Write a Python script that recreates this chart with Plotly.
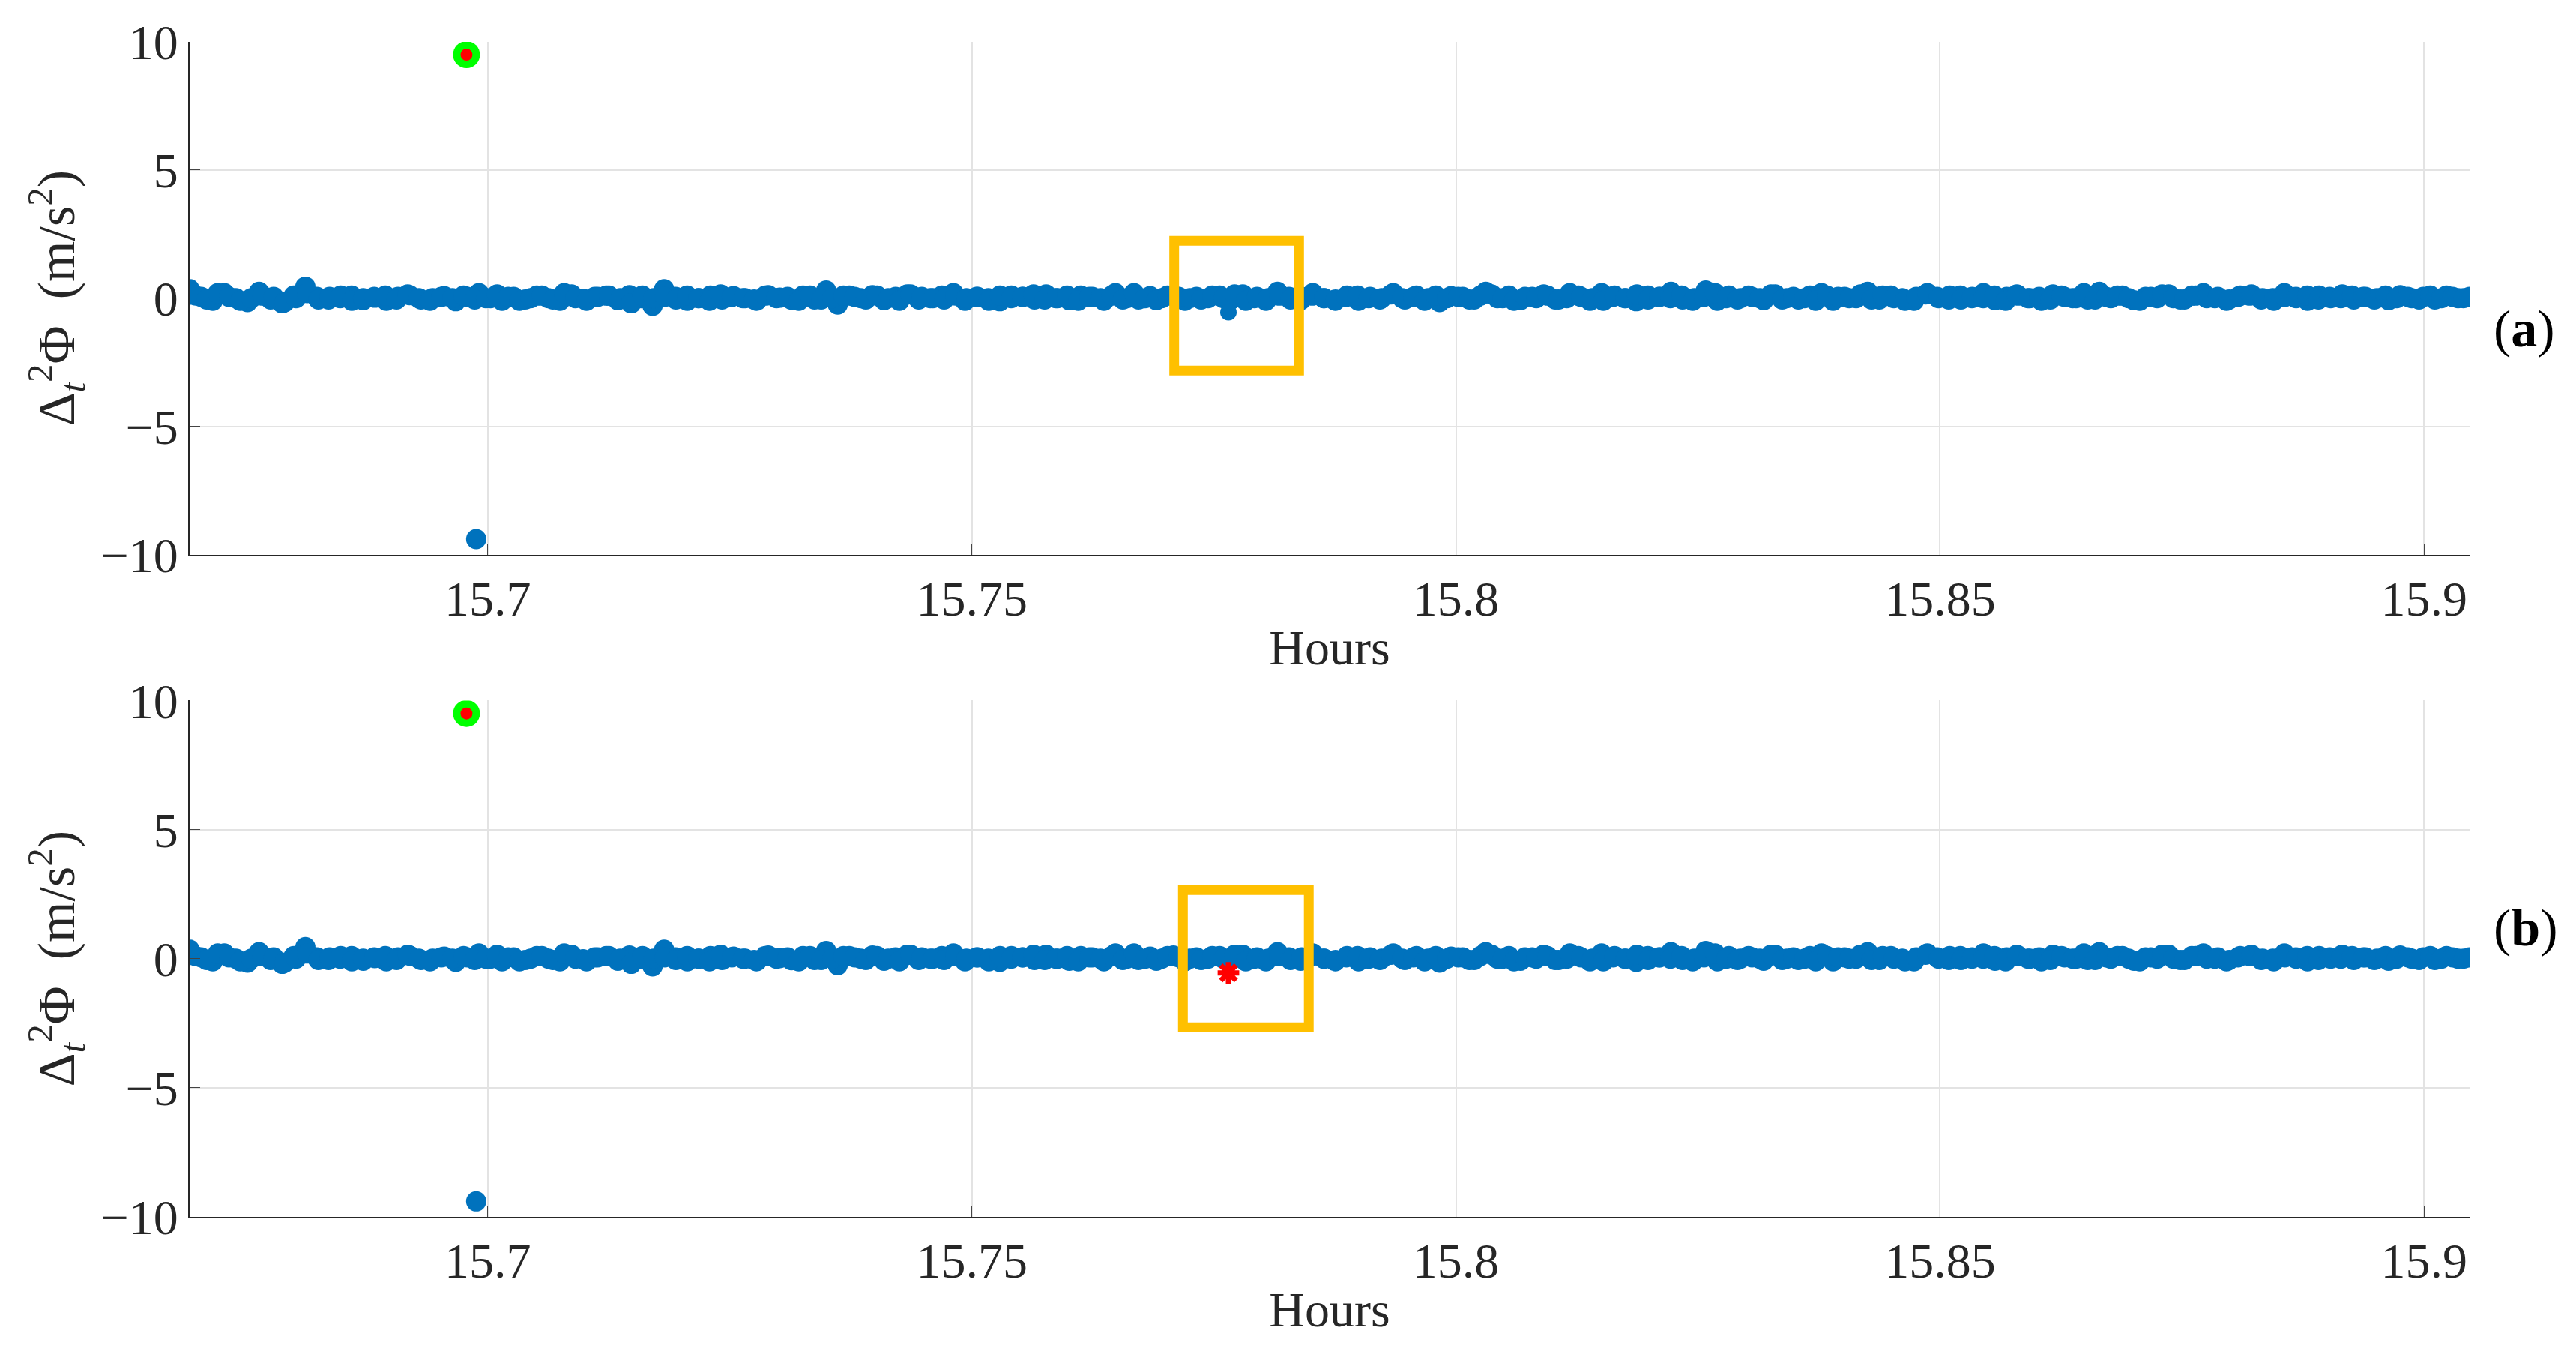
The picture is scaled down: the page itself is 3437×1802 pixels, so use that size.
import plotly.graph_objects as go
from plotly.subplots import make_subplots
import numpy as np

# time span (hours) of the record, sampled evenly
t_start, t_end = 15.6692, 15.9047
noise = [0.35, 0.05, -0.1, 0.2, 0.0, -0.15, 0.25, -0.05, -0.2, 0.1, 0.45, 0.05, -0.05, 0.0, 0.1, -0.08,
         0.02, -0.1, 0.05, 0.12, -0.05, 0.0, 0.08, -0.12, 0.05, 0.2, 0.0, -0.1, 0.05, -0.05,
         0.1, 0.0, -0.1, 0.15, -0.02, 0.05, 0.1, -0.08, 0.12, 0.0, -0.3, 0.35, 0.05, -0.1,
         0.0, 0.1, -0.05, 0.08, 0.0, -0.1, 0.12, 0.02, -0.06, 0.1, -0.05, 0.3, -0.25, 0.1,
         0.0, 0.12, -0.08, 0.05, 0.15, -0.05, 0.0, 0.1, 0.2, -0.1, 0.05, 0.0, -0.12, 0.1,
         0.05, -0.05, 0.15, 0.0, -0.08, 0.1, 0.05, -0.1, 0.2, 0.0, -0.05, 0.08, 0.0, 0.12,
         -0.1, 0.05, 0.0, 0.1, -0.05, 0.15, 0.0, -0.1, 0.25, 0.05, -0.08, 0.1, 0.0, -0.05,
         0.1, -0.1, 0.05, 0.0, 0.2, -0.05, 0.1, 0.0, -0.15, 0.08, 0.05, -0.05, 0.25, 0.0,
         0.1, -0.08, 0.05, 0.15, -0.05, 0.0, 0.1, -0.1, 0.2, 0.05, 0.0, -0.12, 0.1, 0.05,
         0.25, -0.05, 0.0, 0.3, -0.1, 0.1, 0.0, 0.05, -0.08, 0.15, 0.0, -0.05, 0.1, 0.2,
         -0.1, 0.05, 0.0, 0.25, -0.05, 0.1, 0.0, -0.1, 0.15, 0.05, -0.05, 0.1, 0.0, 0.2,
         -0.08, 0.05, 0.1, 0.0, -0.1, 0.15, 0.05, 0.0, -0.05, 0.25, 0.0, 0.1, -0.08, 0.05,
         0.0, 0.15, -0.05, 0.1, 0.2, 0.0, -0.1, 0.05, 0.1, -0.05, 0.0, 0.2, 0.05, -0.1,
         0.1, 0.0, 0.15, -0.05, 0.05, 0.0, -0.08, 0.12, 0.0, 0.05, -0.05, 0.1, 0.0, 0.05]
noise_b = [0.1, -0.05, 0.2, 0.05, -0.1, 0.0, 0.1, 0.05, -0.15, 0.0, 0.2, -0.05, 0.05, 0.1, -0.1,
           0.0, 0.05, 0.1, -0.05, 0.15, 0.0, -0.1, 0.05, 0.0, 0.1, -0.05, 0.0, 0.15, 0.05, -0.1,
           0.0, 0.1, -0.05, 0.2, 0.0, -0.1, 0.05, 0.1, 0.0, -0.2, 0.1, 0.0, 0.05, -0.05, 0.1,
           0.0, -0.1, 0.15, 0.05, 0.0, -0.05, 0.1, 0.0, 0.05, -0.1, 0.1, -0.05, 0.0, 0.1, 0.05,
           -0.05, 0.1, 0.0, -0.1, 0.15, 0.05, 0.0, -0.05, 0.1, 0.0, 0.05, -0.1, 0.1, 0.0, 0.05,
           0.15, -0.05, 0.0, 0.1, -0.1, 0.05, 0.0, 0.1, -0.05, 0.2, 0.0, -0.08, 0.1, 0.05, 0.0,
           -0.05, 0.1, 0.0, 0.15, -0.1, 0.05, 0.0, 0.1, -0.05, 0.05, 0.2, 0.0, -0.1, 0.05, 0.1,
           0.0, -0.05, 0.15, 0.0, 0.05, -0.1, 0.1, 0.0, 0.05, -0.05, 0.1, 0.15, 0.0, -0.1, 0.05,
           0.0, 0.1, -0.05, 0.2, 0.05, 0.0, -0.1, 0.1, 0.0, 0.15, -0.05, 0.05, 0.0, 0.1, -0.1,
           0.05, 0.2, 0.0, -0.05, 0.1, 0.0, 0.15, -0.05, 0.05, 0.0, -0.1, 0.1, 0.05, 0.0, 0.15,
           -0.05, 0.1, 0.0, -0.1, 0.05, 0.2, 0.0, 0.1, -0.05, 0.05, 0.0, 0.1, -0.1, 0.15, 0.0,
           0.05, -0.05, 0.1, 0.0, 0.2, -0.05, 0.05, 0.1, 0.0, -0.1, 0.05, 0.15, 0.0, -0.05, 0.1,
           0.0, 0.05, -0.05, 0.1, 0.15, 0.0, -0.1, 0.05, 0.0, 0.1, -0.05, 0.05, 0.0, 0.1, 0.05,
           -0.05, 0.1, 0.0, 0.05, -0.05, 0.1, 0.0, 0.05, 0.0]
t_a = np.linspace(t_start, t_end, len(noise))
t_b = np.linspace(t_start + 0.0006, t_end - 0.0006, len(noise_b))

# outliers
spike_t, spike_y = 15.6978, 9.5
neg_t, neg_y = 15.6988, -9.4
small_t, small_y = 15.7765, -0.55

# yellow boxes [x0, x1, y0, y1]
box_a = [15.7709, 15.7838, -2.82, 2.24]
box_b = [15.7718, 15.7848, -2.66, 2.66]

blue = "#0072BD"
font = "Liberation Serif"

fig = make_subplots(rows=2, cols=1)
for r in (1, 2):
    fig.add_trace(go.Scatter(x=list(t_a) + list(t_b) + [neg_t, spike_t], y=noise + noise_b + [neg_y, spike_y],
                             mode="markers", marker=dict(color=blue, size=27), showlegend=False), row=r, col=1)
    fig.add_trace(go.Scatter(x=[spike_t], y=[spike_y], mode="markers",
                             marker=dict(color="#00FF00", size=36), showlegend=False), row=r, col=1)
    fig.add_trace(go.Scatter(x=[spike_t], y=[spike_y], mode="markers",
                             marker=dict(color="#FF0000", size=16), showlegend=False), row=r, col=1)

fig.add_trace(go.Scatter(x=[small_t], y=[small_y], mode="markers",
                         marker=dict(color=blue, size=22), showlegend=False), row=1, col=1)
fig.add_trace(go.Scatter(x=[small_t], y=[small_y], mode="markers",
                         marker=dict(color="#FF0000", size=24, symbol="asterisk-open",
                                     line=dict(color="#FF0000", width=7)), showlegend=False), row=2, col=1)

for r, b in ((1, box_a), (2, box_b)):
    fig.add_shape(type="rect", x0=b[0], x1=b[1], y0=b[2], y1=b[3],
                  line=dict(color="#FFC000", width=13), row=r, col=1)

axis_font = dict(family=font, size=66, color="#262626")
for r in (1, 2):
    fig.update_xaxes(range=[t_start, t_end], tickvals=[15.7, 15.75, 15.8, 15.85, 15.9],
                     ticktext=["15.7", "15.75", "15.8", "15.85", "15.9"],
                     showgrid=True, gridcolor="#E3E3E3", gridwidth=2, zeroline=False,
                     showline=True, linecolor="#262626", linewidth=2, ticks="inside", ticklen=14,
                     tickfont=axis_font, title=dict(text="Hours", font=axis_font, standoff=6),
                     row=r, col=1)
    fig.update_yaxes(range=[-10, 10], tickvals=[-10, -5, 0, 5, 10],
                     ticktext=["\u221210", "\u22125", "0", "5", "10"],
                     showgrid=True, gridcolor="#E3E3E3", gridwidth=2, zeroline=False,
                     showline=True, linecolor="#262626", linewidth=2, ticks="inside", ticklen=14,
                     tickfont=axis_font,
                     title=dict(text="\u0394<sub><i>t</i></sub><sup>2</sup>\u03a6  (m/s<sup>2</sup>)",
                                font=dict(family=font, size=70, color="#262626"), standoff=12),
                     row=r, col=1)

fig.update_layout(yaxis=dict(domain=[0.5638, 1.0]), yaxis2=dict(domain=[0.0, 0.4394]))
fig.update_layout(width=3437, height=1802, plot_bgcolor="white", paper_bgcolor="white",
                  margin=dict(l=245, r=150, t=40, b=187))

for txt, yy in (("(<b>a</b>)", 0.782), ("(<b>b</b>)", 0.22)):
    fig.add_annotation(text=txt, xref="paper", yref="paper", x=1.0, y=yy, xanchor="left",
                       xshift=30, showarrow=False, font=dict(family=font, size=70, color="black"))

fig.write_html("out.html")
